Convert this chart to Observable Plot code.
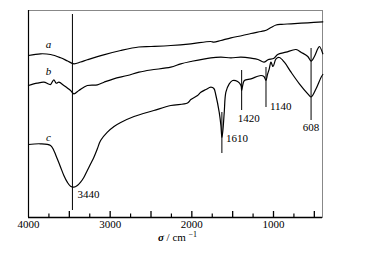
<!DOCTYPE html>
<html><head><meta charset="utf-8">
<script src="https://cdn.jsdelivr.net/npm/d3@7"></script>
<script src="https://cdn.jsdelivr.net/npm/@observablehq/plot@0.6"></script>
<style>body{margin:0;background:#fff}</style>
</head><body><div id="chart"></div>
<script>
// Wavenumbers (cm^-1) and transmittance (arbitrary units)
const sigmaA = [4000,3853,3730,3607,3521,3444,3362,3280,3080,2871,2650,2500,2258,2012,1767,1730,1644,1521,1380,1276,1153,1100,1031,969,900,785,580,396];
const tA     = [162,163.7,163,159.7,156.5,153.7,155.5,157.7,162.7,167,170.5,171,172,173.7,176,175.3,177,179.7,182,184,186,187,190,192.5,193.2,193.7,194.7,195.7];

const sigmaB = [4000,3893,3812,3755,3730,3690,3660,3628,3567,3485,3444,3383,3280,3157,3076,2957,2789,2647,2503,2258,2135,2012,1767,1644,1521,1398,1276,1190,1117,1068,994,949,847,724,663,580,540,499,458,438,396];
const tB     = [132,134.3,135.3,133.5,133,137.7,134.3,135.3,132,127,123.7,127,132,132.7,135.3,138.7,142,145.3,147.5,150.3,153.7,156,159.7,160.3,159.7,160.3,159.3,158,155.3,157.7,159.3,163,165.3,168,165.3,161,156.3,161,168.7,171,163.7];

const sigmaC = [4000,3853,3730,3690,3648,3607,3567,3525,3485,3444,3402,3362,3321,3280,3239,3199,3157,3117,3034,2953,2871,2708,2466,2258,2053,2012,1930,1890,1828,1767,1730,1705,1665,1644,1632,1620,1603,1583,1542,1501,1439,1398,1390,1380,1357,1276,1153,1117,1092,1074,1052,1031,1006,969,929,867,785,683,580,540,479,417,396];
const tC     = [73,73.7,72,67,58.7,50.3,42,35.3,31.3,30.3,32,35.3,40.3,47,53.7,60.3,68.7,77,85.3,91,95,101,107,112,114.5,118,122,125.3,128,130.3,129,122,105.3,92,80,87,105.3,125.3,133.7,137,136,132,127,131,137,138.7,142,141,137,143,148.7,155.3,151,158.7,160,155.3,145.3,133.7,123.7,120.5,128.7,140.3,143];

const seriesNames = ["a", "b", "c"];
const seriesLabelSigma = 3755;

// Peak marker lines
const peakLabels = ["3440", "1610", "1420", "1140", "608"];
const peakSigma  = [3462, 1632, 1390, 1092, 540];
const peakTop    = [203, 105, 147, 150, 169];
const peakBottom = [7, 64, 107, 110, 97];

// Axis ticks
const tickLabels = [4000, 3000, 2000, 1000];
const majorTicks = [3500, 3000, 2500, 2000, 1500, 1000, 500];
const minorTicks = [3750, 3250, 2750, 2250, 1750, 1250, 750];
const axisTitle = "σ / cm⁻¹";

const seriesData = [[sigmaA, tA], [sigmaB, tB], [sigmaC, tC]];
const rows = seriesData.flatMap(([s, t], k) => s.map((x, i) => ({series: seriesNames[k], sigma: x, t: t[i]})));
const peaks = peakLabels.map((label, i) => ({label, sigma: peakSigma[i], top: peakTop[i], bottom: peakBottom[i]}));

function valueAt(k, x) {
  const [s, t] = seriesData[k];
  let best = 0;
  s.forEach((v, i) => { if (Math.abs(v - x) < Math.abs(s[best] - x)) best = i; });
  return t[best];
}

// label placement styles (pixel offsets from the lower end of each marker line)
const peakLabelStyle = [
  {dx: 5, dy: -16, textAnchor: "start"},
  {dx: 4, dy: -15, textAnchor: "start"},
  {dx: -4, dy: 8, textAnchor: "start"},
  {dx: 4, dy: -1, textAnchor: "start"},
  {dx: 0, dy: 7, textAnchor: "middle"}
];
const seriesLabelDy = [-10.5, -13, -8.5];

const chart = Plot.plot({
  width: 365, height: 253,
  marginLeft: 28, marginRight: 43, marginTop: 10, marginBottom: 36,
  x: {domain: [4000, 400], axis: null, label: null},
  y: {domain: [0, 207], axis: null, label: null},
  style: {fontFamily: "'Liberation Serif', 'Times New Roman', serif", fontSize: "11px", background: "#fff", color: "#000"},
  marks: [
    Plot.frame({stroke: "#888"}),
    Plot.ruleX([4000], {stroke: "#000", strokeWidth: 1.2}),
    Plot.ruleY([0], {stroke: "#000", strokeWidth: 1.3}),
    Plot.ruleX(majorTicks, {x: d => d, y1: 0, y2: 6, stroke: "#000", strokeWidth: 1.3}),
    Plot.ruleX(minorTicks, {x: d => d, y1: 0, y2: 3.5, stroke: "#000", strokeWidth: 1.2}),
    Plot.axisX(tickLabels, {anchor: "bottom", tickSize: 0, tickPadding: 3, tickFormat: d => String(d), fontSize: 11, label: null}),
    Plot.line(rows, {x: "sigma", y: "t", z: "series", stroke: "#000", strokeWidth: 1.2, curve: "catmull-rom"}),
    Plot.ruleX(peaks, {x: "sigma", y1: "bottom", y2: "top", stroke: "#000", strokeWidth: 1}),
    ...peaks.map((p, i) => Plot.text([p], {x: "sigma", y: "bottom", text: "label", fontSize: 11, ...peakLabelStyle[i]})),
    ...seriesNames.map((n, k) => Plot.text([n], {x: () => seriesLabelSigma, y: () => valueAt(k, seriesLabelSigma), text: d => d, fontStyle: "italic", fontSize: 11, dy: seriesLabelDy[k]})),
    Plot.text([axisTitle], {frameAnchor: "bottom", text: d => d, dy: 23, dx: 2, fontSize: 11})
  ]
});
document.getElementById("chart").appendChild(chart);

const lab = d3.select(chart).selectAll("text").filter(function () { return this.textContent === axisTitle; });
lab.text(null);
lab.append("tspan").attr("font-style", "italic").attr("font-weight", "bold").text("σ");
lab.append("tspan").text(" / cm ");
lab.append("tspan").attr("dy", "-0.45em").attr("font-size", "8px").text("−1");
</script>
</body></html>
